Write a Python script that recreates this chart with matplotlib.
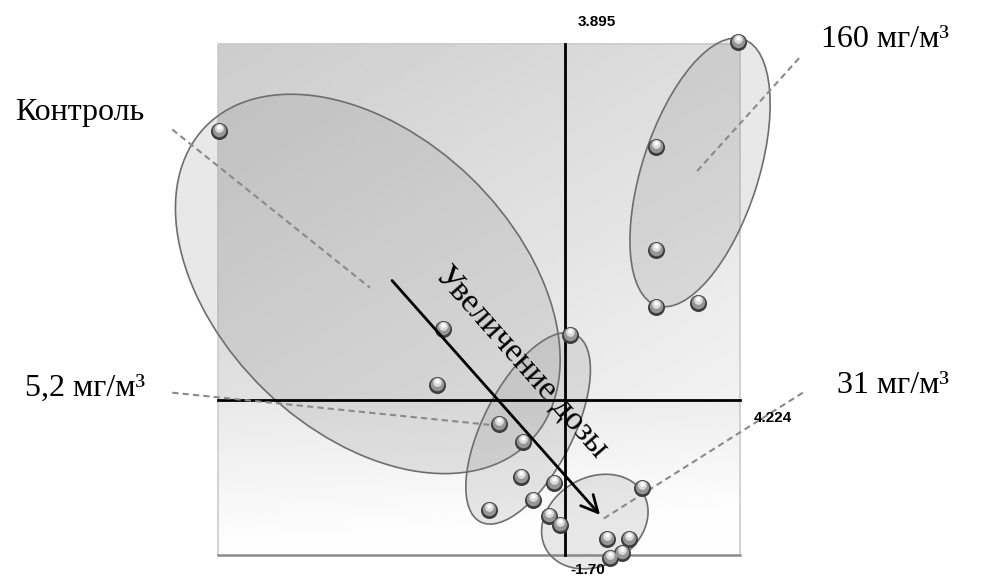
import numpy as np
import matplotlib
matplotlib.use("Agg")
from matplotlib import pyplot as plt
from matplotlib.patches import Ellipse
from matplotlib import transforms

# score plot, values (PC1, PC2)
control_x = [-8.35, -2.94, -3.09]
control_y = [2.94, 0.78, 0.16]
dose160_x = [4.18, 2.20, 2.20, 2.20, 3.21]
dose160_y = [3.92, 2.77, 1.64, 1.02, 1.06]
dose52_x = [0.12, -1.59, -1.01, -1.06, -0.27, -0.77, -1.83, -0.39, -0.12]
dose52_y = [0.71, -0.26, -0.46, -0.84, -0.91, -1.09, -1.20, -1.27, -1.37]
dose31_x = [1.86, 1.01, 1.54, 1.38, 1.09]
dose31_y = [-0.96, -1.52, -1.52, -1.67, -1.73]

x_min, x_max = -8.376, 4.224
y_min, y_max = -1.70, 3.895

# pixel scale of the picture
W, H = 994, 577
x0_px, y0_px = 565, 400
sx, sy = 41.43, 91.4

fig = plt.figure(figsize=(W / 100, H / 100), dpi=100)
ax = fig.add_axes([0, 0, 1, 1])
ax.set_xlim(-x0_px / sx, (W - x0_px) / sx)
ax.set_ylim((y0_px - H) / sy, y0_px / sy)
ax.axis("off")

# grey gradient background of the plot box (row 0 = top)
gx = np.linspace(0, 1, 300)
gy = np.linspace(0, 1, 300)
GX, GY = np.meshgrid(gx, gy)
cut = y_max / (y_max - y_min)
upper = 0.80 + 0.08 * GY / cut + 0.07 * GX
lower = 0.91 + 0.09 * (GY - cut) / (1 - cut) + 0.02 * GX
shade = np.clip(np.where(GY < cut, upper, lower), 0, 0.995)
ax.imshow(shade, extent=[x_min, x_max, y_min, y_max], cmap="gray", vmin=0, vmax=1,
          aspect="auto", zorder=0, origin="upper")
ax.plot([x_min, x_min, x_max, x_max], [y_min, y_max, y_max, y_min],
        color="#cccccc", lw=1.2, zorder=1)
ax.plot([x_min, x_max], [y_min, y_min], color="#8c8c8c", lw=1.8, zorder=1)


def group_ellipse(cx, cy, a_px, b_px, angle):
    tr = fig.dpi_scale_trans + transforms.ScaledTranslation(cx, cy, ax.transData)
    e = Ellipse((0, 0), 2 * a_px / 100, 2 * b_px / 100, angle=angle, transform=tr,
                facecolor="#7a7a7a", alpha=0.17, edgecolor="none", zorder=2)
    ax.add_patch(e)
    e2 = Ellipse((0, 0), 2 * a_px / 100, 2 * b_px / 100, angle=angle, transform=tr,
                 facecolor="none", edgecolor="#6e6e6e", lw=1.2, zorder=2)
    ax.add_patch(e2)


group_ellipse(-4.76, 1.27, 226, 148, -44)
group_ellipse(3.26, 2.49, 140, 58, 72)
group_ellipse(-0.89, -0.31, 105, 45, 63)
group_ellipse(0.72, -1.33, 56, 44, 30)

# axes through the origin
ax.plot([0, 0], [y_min, y_max], color="black", lw=2, zorder=3)
ax.plot([x_min, x_max], [0, 0], color="black", lw=2, zorder=3)

# dashed leaders from labels
dash = dict(color="#8a8a8a", lw=1.5, ls=(0, (3, 2)), zorder=3)
ax.plot([-9.48, -4.71], [2.96, 1.23], **dash)
ax.plot([5.65, 3.14], [3.74, 2.48], **dash)
ax.plot([-9.48, -1.64], [0.08, -0.28], **dash)
ax.plot([5.74, 0.89], [0.08, -1.31], **dash)

# spheres
xs = control_x + dose160_x + dose52_x + dose31_x
ys = control_y + dose160_y + dose52_y + dose31_y
ax.scatter(xs, ys, s=150, color="#3c3c3c", zorder=5, linewidths=0)
up1 = transforms.offset_copy(ax.transData, fig, y=1, units="dots")
up3 = transforms.offset_copy(ax.transData, fig, y=3, units="dots")
up4 = transforms.offset_copy(ax.transData, fig, y=4, units="dots")
ax.scatter(xs, ys, s=95, color="#969696", zorder=6, linewidths=0, transform=up1)
ax.scatter(xs, ys, s=40, color="#dadada", zorder=7, linewidths=0, transform=up3)
ax.scatter(xs, ys, s=10, color="white", zorder=8, linewidths=0, transform=up4)

# dose arrow
ax.annotate("", xy=(0.89, -1.28), xytext=(-4.22, 1.33),
            arrowprops=dict(arrowstyle="->", lw=2, color="black", mutation_scale=30),
            zorder=9)
ax.text(-1.04, 0.42, "Увеличение дозы", rotation=-48.5, rotation_mode="anchor",
        ha="center", va="center", fontsize=24, family="Liberation Serif", zorder=9)

serif = dict(fontsize=23, family="Liberation Serif", ha="center", va="center")
ax.text(-11.71, 3.15, "Контроль", **serif)
ax.text(7.72, 3.94, "160 мг/м³", **serif)
ax.text(-11.59, 0.13, "5,2 мг/м³", **serif)
ax.text(7.92, 0.16, "31 мг/м³", **serif)

num = dict(fontsize=11, family=["Liberation Sans Narrow", "Liberation Sans"],
           fontweight="bold", ha="center", va="center")
ax.text(0.77, 4.14, "3.895", **num)
ax.text(5.02, -0.20, "4.224", **num)
ax.text(0.56, -1.86, "-1.70", **num)

plt.savefig("out.png", dpi=100)
